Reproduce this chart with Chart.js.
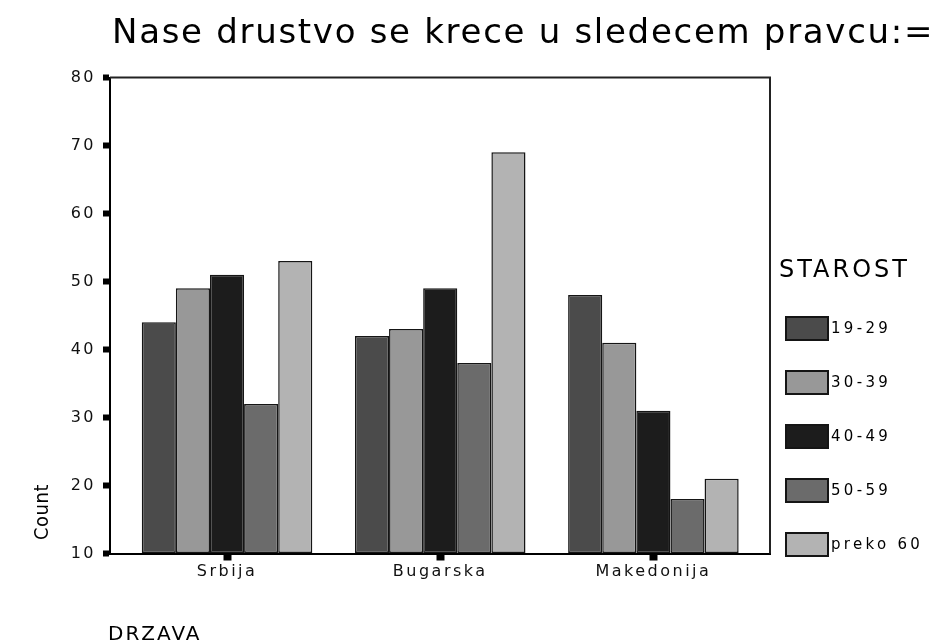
<!DOCTYPE html>
<html>
<head>
<meta charset="utf-8">
<script src="https://cdn.jsdelivr.net/npm/chart.js@4/dist/chart.umd.min.js"></script>
<style>
  html, body { margin: 0; padding: 0; background: #fff; }
  #wrap { width: 942px; height: 644px; position: relative; }
</style>
</head>
<body>
<div id="wrap"><canvas id="c" width="942" height="644"></canvas></div>
<script>
// ---- data ----
const categories = ['Srbija', 'Bugarska', 'Makedonija'];
const ageGroups = ['19-29', '30-39', '40-49', '50-59', 'preko 60'];
const s19_29 = [44, 42, 48];
const s30_39 = [49, 43, 41];
const s40_49 = [51, 49, 31];
const s50_59 = [32, 38, 18];
const sPreko60 = [53, 69, 21];
const yTicks = [10, 20, 30, 40, 50, 60, 70, 80];
const chartTitle = 'Nase drustvo se krece u sledecem pravcu:=';
const legendTitle = 'STAROST';
const yTitle = 'Count';
const xTitle = 'DRZAVA';

// ---- styles ----
const seriesValues = [s19_29, s30_39, s40_49, s50_59, sPreko60];
const fills = ['#4b4b4b', '#989898', '#1c1c1c', '#6b6b6b', '#b3b3b3'];
const FONT = '"DejaVu Sans", "Liberation Sans", Arial, sans-serif';

const datasets = ageGroups.map((name, k) => ({
  label: name,
  data: categories.map((c, i) => ({ x: i, y: seriesValues[k][i] })),
  backgroundColor: fills[k],
  borderColor: '#151515',
  borderWidth: 1.5,
  borderSkipped: false,
  base: yTicks[0],
  categoryPercentage: 0.8,
  barPercentage: 1.0
}));

const decor = {
  id: 'decor',
  beforeDraw(chart) {
    chart.ctx.letterSpacing = '2.5px';
  },
  beforeDatasetsDraw(chart) {
    const ctx = chart.ctx;
    const a = chart.chartArea;
    ctx.save();
    ctx.strokeStyle = '#222';
    ctx.lineWidth = 2;
    ctx.beginPath();
    ctx.moveTo(a.left, a.top);
    ctx.lineTo(a.right, a.top);
    ctx.lineTo(a.right, a.bottom);
    ctx.stroke();
    ctx.restore();
  },
  afterDraw(chart) {
    const ctx = chart.ctx;
    ctx.save();
    ctx.fillStyle = '#000';
    // title
    ctx.letterSpacing = '1.7px';
    ctx.font = '34px ' + FONT;
    ctx.textAlign = 'left';
    ctx.textBaseline = 'alphabetic';
    ctx.fillText(chartTitle, 112, 43);
    // x title
    ctx.letterSpacing = '2px';
    ctx.font = '20px ' + FONT;
    ctx.fillText(xTitle, 108, 640);
    // y title
    ctx.save();
    ctx.translate(48, 512);
    ctx.rotate(-Math.PI / 2);
    ctx.textAlign = 'center';
    ctx.letterSpacing = '0.5px';
    ctx.font = '20px "DejaVu Sans Condensed", "Liberation Sans Narrow", ' + FONT;
    ctx.fillText(yTitle, 0, 0);
    ctx.restore();
    // legend
    ctx.letterSpacing = '3px';
    ctx.font = '24px ' + FONT;
    ctx.fillText(legendTitle, 779, 277);
    ctx.letterSpacing = '3.3px';
    ctx.font = '15px ' + FONT;
    chart.data.datasets.forEach((ds, k) => {
      const top = 317 + k * 54;
      ctx.fillStyle = ds.backgroundColor;
      ctx.fillRect(786, top, 42, 23);
      ctx.strokeStyle = '#151515';
      ctx.lineWidth = 2;
      ctx.strokeRect(786, top, 42, 23);
      ctx.fillStyle = '#000';
      ctx.textBaseline = 'middle';
      ctx.fillText(ds.label, 831, top + 12);
    });
    ctx.restore();
  }
};

new Chart(document.getElementById('c'), {
  type: 'bar',
  data: { datasets },
  options: {
    responsive: false,
    animation: false,
    devicePixelRatio: 1,
    layout: { padding: { left: 0, top: 77.5, right: 172, bottom: 0 } },
    plugins: { legend: { display: false }, tooltip: { enabled: false }, title: { display: false } },
    scales: {
      x: {
        type: 'linear',
        bounds: 'data',
        min: -0.549,
        max: 2.547,
        offset: false,
        afterBuildTicks(scale) {
          scale.ticks = categories.map((c, i) => ({ value: i }));
        },
        afterFit(scale) { scale.height = 644 - 553.5; },
        grid: { display: true, offset: false, drawOnChartArea: false, drawTicks: true, tickLength: 7, tickWidth: 8, tickColor: '#000' },
        border: { display: true, color: '#000', width: 2 },
        ticks: {
          autoSkip: false, maxRotation: 0, padding: 2,
          color: '#111',
          font: { family: FONT, size: 16 },
          callback: (v) => categories[v]
        }
      },
      y: {
        min: yTicks[0],
        max: yTicks[yTicks.length - 1],
        afterBuildTicks(scale) {
          scale.ticks = yTicks.map(v => ({ value: v }));
        },
        afterFit(scale) { scale.width = 110; },
        grid: { display: true, drawOnChartArea: false, drawTicks: true, tickLength: 7, tickWidth: 6, tickColor: '#000' },
        border: { display: true, color: '#000', width: 2 },
        ticks: {
          padding: 7,
          color: '#111',
          font: { family: FONT, size: 16 }
        }
      }
    }
  },
  plugins: [decor]
});
</script>
</body>
</html>
